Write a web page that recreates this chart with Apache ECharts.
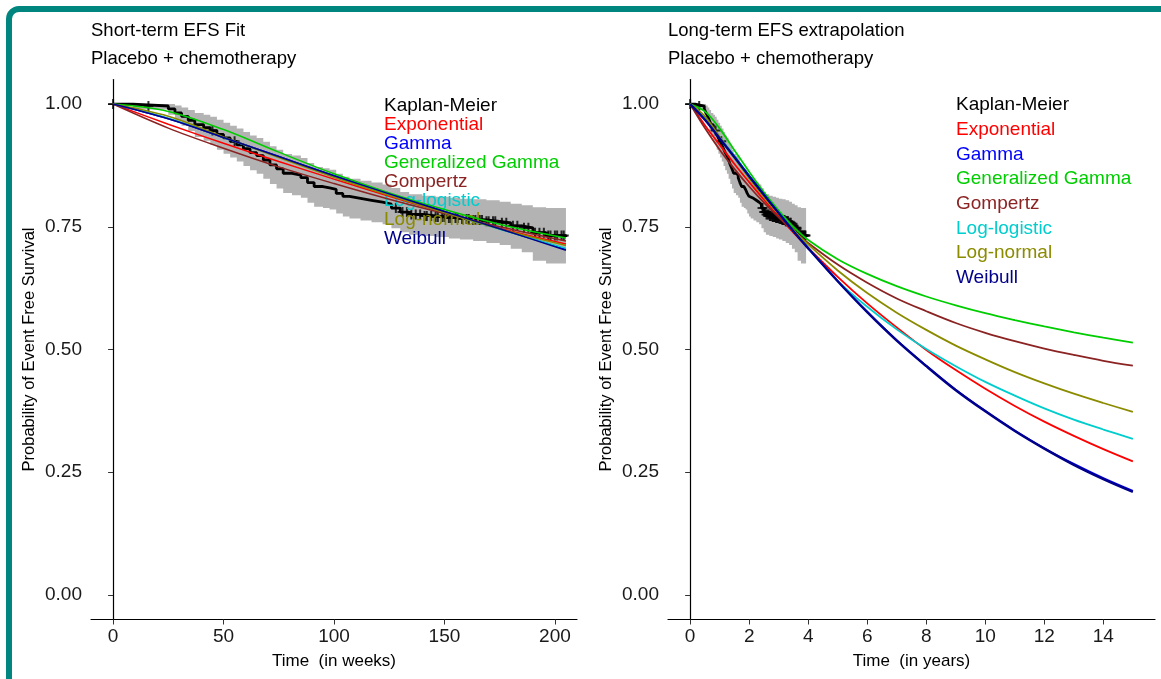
<!DOCTYPE html>
<html>
<head>
<meta charset="utf-8">
<script src="https://cdn.jsdelivr.net/npm/echarts@6/dist/echarts.min.js"></script>
<style>
  html, body { margin: 0; padding: 0; background: #fff; }
  #chart { width: 1161px; height: 679px; }
</style>
</head>
<body>
<div id="chart"></div>
<script>
const WEEKS_PER_YEAR = 52.18;

// Kaplan-Meier estimate (time in weeks) with 95% CI
const kmTime  = [0, 9, 25, 28, 31, 34, 37, 41, 44, 47, 50, 53, 56, 59, 62, 65, 68, 71, 74, 77, 81, 85, 88, 91, 95, 98, 101, 104, 107, 112, 117, 122, 126, 130, 134, 140, 146, 152, 157, 163, 169, 175, 180, 185, 190, 196, 205];
const kmSurv  = [1.000, .996, .990, .982, .975, .967, .958, .952, .946, .938, .931, .924, .917, .909, .901, .895, .886, .876, .868, .859, .855, .850, .840, .832, .829, .826, .818, .812, .808, .804, .800, .796, .788, .780, .775, .772, .770, .768, .766, .764, .761, .758, .752, .748, .738, .732, .729];
const kmLower = [1.000, .989, .978, .966, .956, .945, .933, .925, .917, .907, .899, .891, .883, .874, .865, .858, .848, .837, .828, .819, .814, .809, .799, .791, .788, .785, .777, .771, .767, .763, .759, .755, .747, .739, .734, .731, .729, .726, .724, .721, .717, .713, .705, .698, .681, .675, .672];
const kmUpper = [1.000, 1.000, 1.000, .997, .993, .988, .982, .978, .974, .968, .962, .956, .950, .943, .936, .931, .923, .914, .907, .898, .895, .890, .880, .872, .869, .866, .858, .852, .848, .844, .840, .836, .829, .821, .816, .813, .811, .809, .807, .806, .804, .801, .797, .794, .790, .788, .786];
const censorTime = [0, 16, 45, 55, 128, 131, 133, 135, 137, 139, 141, 142, 144, 146, 147, 149, 150, 152, 153, 155, 156, 158, 160, 161, 163, 164, 166, 167, 169, 170, 172, 173, 176, 178, 181, 183, 186, 188, 191, 193, 195, 197, 198, 200, 201, 203, 204];

// Parametric fits, short-term (weeks)
const fitWeeks = [0, 25, 50, 75, 100, 125, 150, 175, 205];
const expWeeks      = [1, .959, .920, .883, .847, .812, .779, .747, .715];
const gammaWeeks    = [1, .970, .932, .893, .854, .817, .781, .746, .704];
const genGammaWeeks = [1, .985, .948, .902, .858, .819, .785, .755, .727];
const gompertzWeeks = [1, .951, .910, .872, .838, .806, .777, .750, .721];
const logLogWeeks   = [1, .971, .932, .892, .853, .816, .780, .745, .706];
const logNormWeeks  = [1, .975, .933, .891, .851, .814, .779, .746, .712];
const weibullWeeks  = [1, .970, .932, .893, .854, .817, .781, .746, .702];

// Parametric fits, long-term (years)
const fitYears = [0, .5, 1, 1.5, 2, 2.5, 3, 3.5, 4, 5, 6, 7, 8, 9, 10, 11, 12, 13, 14, 15];
const expYears      = [1, .957, .917, .878, .841, .805, .771, .738, .707, .648, .594, .545, .499, .458, .420, .385, .353, .324, .297, .272];
const gammaYears    = [1, .969, .931, .893, .854, .816, .779, .742, .707, .640, .577, .519, .467, .418, .375, .335, .299, .267, .238, .212];
const genGammaYears = [1, .985, .950, .906, .862, .820, .783, .750, .723, .684, .654, .629, .608, .590, .574, .560, .547, .535, .524, .514];
const gompertzYears = [1, .951, .907, .868, .832, .799, .769, .742, .717, .673, .636, .604, .578, .554, .534, .517, .502, .489, .477, .467];
const logLogYears   = [1, .971, .933, .894, .854, .816, .779, .743, .707, .640, .587, .541, .501, .466, .434, .406, .380, .357, .337, .318];
const logNormYears  = [1, .975, .933, .890, .849, .811, .776, .744, .714, .661, .615, .575, .540, .508, .480, .454, .431, .410, .391, .373];
const weibullYears  = [1, .968, .930, .892, .853, .815, .778, .741, .706, .639, .576, .518, .466, .417, .374, .334, .298, .265, .236, .210];

const models = [
  { name: 'Exponential',       color: '#ff0000', weeks: expWeeks,      years: expYears },
  { name: 'Gamma',             color: '#0000ff', weeks: gammaWeeks,    years: gammaYears },
  { name: 'Generalized Gamma', color: '#00cd00', weeks: genGammaWeeks, years: genGammaYears },
  { name: 'Gompertz',          color: '#8b2323', weeks: gompertzWeeks, years: gompertzYears },
  { name: 'Log-logistic',      color: '#00cdcd', weeks: logLogWeeks,   years: logLogYears },
  { name: 'Log-normal',        color: '#8b8b00', weeks: logNormWeeks,  years: logNormYears },
  { name: 'Weibull',           color: '#00008b', weeks: weibullWeeks,  years: weibullYears }
];

const FONT = 'Liberation Sans, Arial, sans-serif';
const BAND = '#b3b3b3';
const PLUS = 'path://M4,0h2v10h-2z M0,4h10v2h-10z';
const TEXT = '#1a1a1a';

function survAt(t) {
  let s = kmSurv[0];
  kmTime.forEach((k, i) => { if (k <= t) s = kmSurv[i]; });
  return s;
}

function bandSeries(idx, scale) {
  const pts = kmTime.map((t, i) => [t / scale, kmLower[i], kmUpper[i]]);
  return {
    type: 'custom', xAxisIndex: idx, yAxisIndex: idx, silent: true, z: 1,
    data: pts,
    encode: { x: 0, y: [1, 2] },
    renderItem(params, api) {
      if (params.dataIndex !== 0) return null;
      const top = [], bottom = [];
      pts.forEach((p, i) => {
        const next = pts[i + 1] ? pts[i + 1][0] : p[0];
        top.push(api.coord([p[0], p[2]]), api.coord([next, p[2]]));
        bottom.push(api.coord([p[0], p[1]]), api.coord([next, p[1]]));
      });
      return { type: 'polygon', shape: { points: top.concat(bottom.reverse()) }, style: { fill: BAND } };
    }
  };
}

function panelSeries(idx, scale, key, fitX, lineWidth) {
  const list = [bandSeries(idx, scale)];
  list.push({
    name: 'Kaplan-Meier', type: 'line', step: 'end', xAxisIndex: idx, yAxisIndex: idx,
    data: kmTime.map((t, i) => [t / scale, kmSurv[i]]),
    showSymbol: false, lineStyle: { color: '#000', width: 2.8 }, itemStyle: { color: '#000' }, z: 2
  });
  list.push({
    type: 'scatter', xAxisIndex: idx, yAxisIndex: idx, silent: true,
    data: censorTime.map(t => [t / scale, survAt(t)]),
    symbol: PLUS, symbolSize: 10, itemStyle: { color: '#000' }, z: 3
  });
  models.forEach(m => {
    list.push({
      name: m.name, type: 'line', xAxisIndex: idx, yAxisIndex: idx,
      data: fitX.map((x, i) => [x, m[key][i]]),
      smooth: 0.35, showSymbol: false,
      lineStyle: { color: m.color, width: m.name === 'Weibull' && idx === 1 ? lineWidth + 0.6 : lineWidth },
      itemStyle: { color: m.color }, z: 4
    });
  });
  return list;
}

function yAxis(idx) {
  return {
    gridIndex: idx, type: 'value', min: -0.05, max: 1.05,
    name: 'Probability of Event Free Survival', nameLocation: 'middle', nameGap: 53,
    nameTextStyle: { fontFamily: FONT, fontSize: 16.5, color: '#000' },
    splitLine: { show: false },
    axisLine: { lineStyle: { color: '#000', width: 1.2 } },
    axisTick: { length: 5, lineStyle: { color: '#333' }, customValues: [0, 0.25, 0.5, 0.75, 1] },
    axisLabel: { fontFamily: FONT, fontSize: 19, color: TEXT, margin: 9,
      customValues: [0, 0.25, 0.5, 0.75, 1], formatter: v => v.toFixed(2) }
  };
}

function xAxis(idx, min, max, ticks, name) {
  return {
    gridIndex: idx, type: 'value', min: min, max: max,
    name: name, nameLocation: 'middle', nameGap: 33,
    nameTextStyle: { fontFamily: FONT, fontSize: 17, color: '#000' },
    splitLine: { show: false },
    axisLine: { onZero: false, lineStyle: { color: '#000', width: 1.2 } },
    axisTick: { length: 5, lineStyle: { color: '#333' }, customValues: ticks },
    axisLabel: { fontFamily: FONT, fontSize: 19, color: TEXT, margin: 8, customValues: ticks }
  };
}

function legend(left, top, lineHeight) {
  return {
    orient: 'vertical', left: left, top: top, itemGap: 0, itemWidth: 0, itemHeight: 0,
    selectedMode: false, icon: 'rect',
    textStyle: { fontFamily: FONT, fontSize: 19, lineHeight: lineHeight },
    data: [{ name: 'Kaplan-Meier', textStyle: { color: '#000' } }]
      .concat(models.map(m => ({ name: m.name, textStyle: { color: m.color } })))
  };
}

const chart = echarts.init(document.getElementById('chart'));
chart.setOption({
  animation: false,
  backgroundColor: '#fff',
  title: [
    { text: 'Short-term EFS Fit', subtext: 'Placebo + chemotherapy', left: 86, top: 16, itemGap: 9,
      textStyle: { fontFamily: FONT, fontSize: 18.5, fontWeight: 'normal', color: '#000' },
      subtextStyle: { fontFamily: FONT, fontSize: 18.5, color: '#000' } },
    { text: 'Long-term EFS extrapolation', subtext: 'Placebo + chemotherapy', left: 663, top: 16, itemGap: 9,
      textStyle: { fontFamily: FONT, fontSize: 18.5, fontWeight: 'normal', color: '#000' },
      subtextStyle: { fontFamily: FONT, fontSize: 18.5, color: '#000' } }
  ],
  legend: [legend(374, 91.5, 15), legend(946, 87.7, 24.7)],
  grid: [
    { left: 91, top: 79.5, width: 486, height: 540 },
    { left: 668, top: 79.5, width: 487, height: 540 }
  ],
  xAxis: [
    xAxis(0, -10, 210, [0, 50, 100, 150, 200], 'Time  (in weeks)'),
    xAxis(1, -0.75, 15.75, [0, 2, 4, 6, 8, 10, 12, 14], 'Time  (in years)')
  ],
  yAxis: [yAxis(0), yAxis(1)],
  graphic: [{
    type: 'rect', silent: true, z: 100,
    shape: { x: 9, y: 9, width: 1200, height: 720, r: 10 },
    style: { fill: 'none', stroke: '#00857f', lineWidth: 6 }
  }],
  series: panelSeries(0, 1, 'weeks', fitWeeks, 1.5)
    .concat(panelSeries(1, WEEKS_PER_YEAR, 'years', fitYears, 1.8))
});
</script>
</body>
</html>
